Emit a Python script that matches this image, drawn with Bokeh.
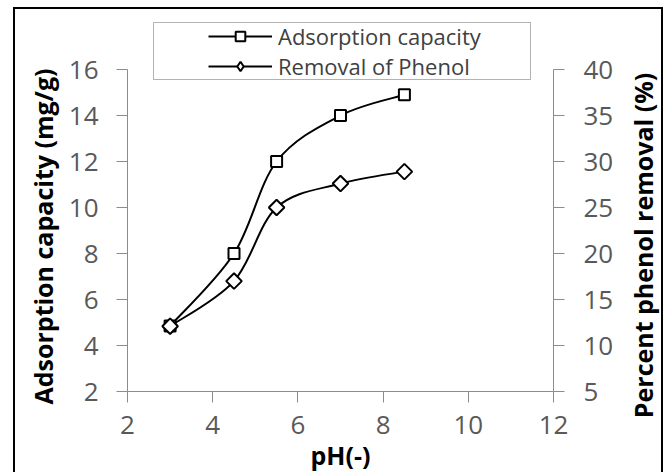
import numpy as np
from bokeh.plotting import figure
from bokeh.models import (Range1d, LinearAxis, FixedTicker, Legend, LegendItem,
                          BoxAnnotation, ColumnDataSource, Label)
from bokeh.embed import file_html
from bokeh.resources import INLINE

# ---- data ----
ph = [3.0, 4.5, 5.5, 7.0, 8.5]
adsorption_capacity = [4.85, 8.0, 12.0, 14.0, 14.9]   # mg/g, left axis
phenol_removal = [12.1, 17.0, 25.0, 27.6, 28.9]        # %, right axis
x_ticks = [2, 4, 6, 8, 10, 12]
left_ticks = [2, 4, 6, 8, 10, 12, 14, 16]
right_ticks = [5, 10, 15, 20, 25, 30, 35, 40]
series_names = ["Adsorption capacity", "Removal of Phenol"]
x_title = "pH(-)"
left_title = "Adsorption capacity (mg/g)"
right_title = "Percent phenol removal (%)"


def smooth_segments(xs, ys):
    """Cubic Bezier segments (Catmull-Rom) through the data points, like Excel's smoothed line."""
    x = list(xs)
    y = list(ys)
    n = len(x)
    xp = [x[0]] + x + [x[-1]]
    yp = [y[0]] + y + [y[-1]]
    d = dict(x0=[], y0=[], x1=[], y1=[], cx0=[], cy0=[], cx1=[], cy1=[])
    for i in range(n - 1):
        j = i + 1
        d["x0"].append(xp[j]); d["y0"].append(yp[j])
        d["x1"].append(xp[j + 1]); d["y1"].append(yp[j + 1])
        d["cx0"].append(xp[j] + (xp[j + 1] - xp[j - 1]) / 6.0)
        d["cy0"].append(yp[j] + (yp[j + 1] - yp[j - 1]) / 6.0)
        d["cx1"].append(xp[j + 1] - (xp[j + 2] - xp[j]) / 6.0)
        d["cy1"].append(yp[j + 1] - (yp[j + 2] - yp[j]) / 6.0)
    return ColumnDataSource(d)


FONT = "Open Sans"
AXIS_GRAY = "#8c8c8c"
TICK_TEXT = "#595959"

# ---- layout (pixels inside the 650x465 canvas) ----
W, H = 650, 465
PLOT_L, PLOT_R = 112, 538      # canvas x of the x-axis ends
PLOT_T, PLOT_B = 60, 382       # canvas y (from top) of the y-axis ends


def padded(lo, hi, px_lo_pad, px_hi_pad, span_px):
    per = (hi - lo) / span_px
    return Range1d(lo - px_lo_pad * per, hi + px_hi_pad * per)


x0v, x1v = x_ticks[0], x_ticks[-1]
l0, l1 = left_ticks[0], left_ticks[-1]
r0, r1 = right_ticks[0], right_ticks[-1]

p = figure(width=W, height=H, output_backend="svg", toolbar_location=None,
           x_range=padded(x0v, x1v, PLOT_L, W - PLOT_R, PLOT_R - PLOT_L),
           y_range=padded(l0, l1, H - PLOT_B, PLOT_T, PLOT_B - PLOT_T),
           min_border=0, min_border_left=0, min_border_right=0,
           min_border_top=0, min_border_bottom=0)
if p.title is not None:
    p.title.visible = False
p.styles = {"margin-left": "13px", "margin-top": "7px",
            "border-top": "2px solid black", "border-left": "2px solid black",
            "border-right": "2px solid black"}
p.extra_y_ranges = {"right": padded(r0, r1, H - PLOT_B, PLOT_T, PLOT_B - PLOT_T)}
p.xgrid.visible = False
p.ygrid.visible = False
p.outline_line_color = None
p.background_fill_color = "white"
p.border_fill_color = "white"


def style_axis(ax):
    ax.axis_line_color = AXIS_GRAY
    ax.axis_line_width = 1
    ax.major_tick_line_color = AXIS_GRAY
    ax.major_tick_out = 11
    ax.major_tick_in = 0
    ax.minor_tick_line_color = None
    ax.major_label_text_font = FONT
    ax.major_label_text_font_size = "26px"
    ax.major_label_text_color = TICK_TEXT


xa = p.xaxis[0]
xa.ticker = FixedTicker(ticks=x_ticks)
xa.bounds = (x0v, x1v)
xa.fixed_location = l0
style_axis(xa)
xa.major_label_standoff = 13

ya = p.yaxis[0]
ya.ticker = FixedTicker(ticks=left_ticks)
ya.bounds = (l0, l1)
ya.fixed_location = x0v
style_axis(ya)
ya.major_label_standoff = 18

yr = LinearAxis(y_range_name="right", ticker=FixedTicker(ticks=right_ticks),
                bounds=(r0, r1), fixed_location=x1v)
style_axis(yr)
yr.major_label_standoff = 19
p.add_layout(yr, "right")

# ---- axis titles (screen units measured from the canvas' bottom-left) ----
title_style = dict(x_units="screen", y_units="screen", text_font=FONT,
                   text_font_style="bold", text_color="black", text_baseline="middle")
p.add_layout(Label(x=27, y=H - 227, text=left_title, angle=np.pi / 2, text_align="center",
                   text_font_size="25px", **title_style))
p.add_layout(Label(x=627, y=H - 236, text=right_title, angle=np.pi / 2, text_align="center",
                   text_font_size="25px", **title_style))
p.add_layout(Label(x=(PLOT_L + PLOT_R) / 2, y=H - 445, text=x_title, text_align="center",
                   text_font_size="25px", **title_style))

# ---- series ----
src_a = smooth_segments(ph, adsorption_capacity)
src_r = smooth_segments(ph, phenol_removal)

curve_a = p.bezier(x0="x0", y0="y0", x1="x1", y1="y1", cx0="cx0", cy0="cy0",
                   cx1="cx1", cy1="cy1", source=src_a, line_color="black", line_width=2)
curve_r = p.bezier(x0="x0", y0="y0", x1="x1", y1="y1", cx0="cx0", cy0="cy0",
                   cx1="cx1", cy1="cy1", source=src_r, line_color="black", line_width=2,
                   y_range_name="right")

pts_a = p.scatter(ph, adsorption_capacity, marker="square", size=11, fill_color="white",
                  line_color="black", line_width=2)
# diamond swatch used by the legend (sits hidden under the rotated squares below)
key_r = p.scatter(ph, phenol_removal, marker="diamond", size=7, fill_color="white",
                  line_color="black", line_width=2, y_range_name="right")
pts_r = p.scatter(ph, phenol_removal, marker="square", angle=np.pi / 4, size=11,
                  fill_color="white", line_color="black", line_width=2, y_range_name="right")

# legend frame (screen units from the canvas' bottom-left)
box = BoxAnnotation(left=138, right=515, bottom=H - 70, top=H - 13,
                    left_units="screen", right_units="screen",
                    bottom_units="screen", top_units="screen",
                    fill_alpha=0, line_color="black", line_width=1)
p.add_layout(box)

legend = Legend(items=[LegendItem(label=series_names[0], renderers=[curve_a, pts_a]),
                       LegendItem(label=series_names[1], renderers=[curve_r, key_r])],
                location=(192, H - 73), orientation="vertical",
                glyph_width=64, glyph_height=24, label_height=24, label_standoff=6,
                spacing=-2, padding=1, margin=0,
                label_text_font=FONT, label_text_font_size="22px", label_text_color="#404040",
                border_line_alpha=0, background_fill_alpha=0)
p.add_layout(legend, "center")

open("out.html", "w").write(file_html(p, INLINE))
